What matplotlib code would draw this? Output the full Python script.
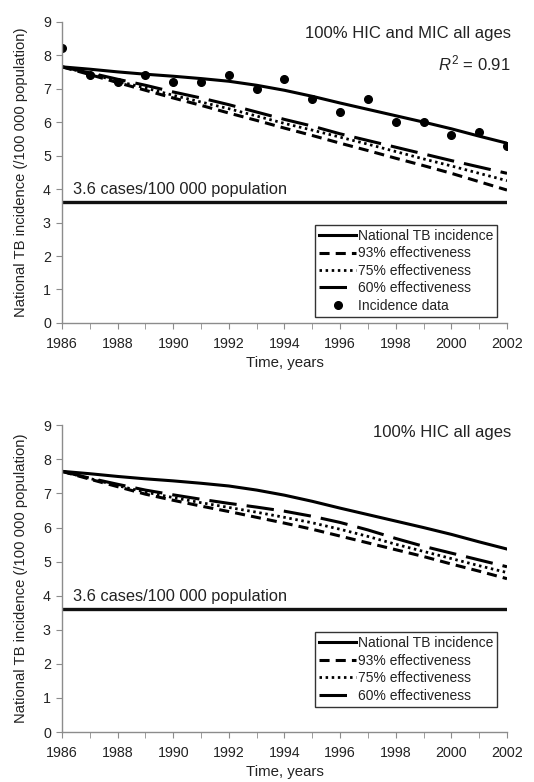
import matplotlib
matplotlib.use('Agg')
import matplotlib.pyplot as plt
import numpy as np

plt.rcParams['font.family'] = ['Liberation Sans', 'DejaVu Sans']
plt.rcParams['mathtext.fontset'] = 'custom'
plt.rcParams['mathtext.rm'] = 'Liberation Sans'
plt.rcParams['mathtext.it'] = 'Liberation Sans:italic'

years = list(range(1986, 2003))

# national TB incidence model (same in both panels)
national = [7.65, 7.58, 7.50, 7.43, 7.37, 7.30, 7.22, 7.10, 6.95, 6.77,
            6.57, 6.38, 6.19, 6.00, 5.80, 5.58, 5.37]
# observed incidence data
incidence = [8.2, 7.4, 7.2, 7.4, 7.2, 7.2, 7.4, 7.0, 7.3, 6.7,
             6.3, 6.7, 6.0, 6.0, 5.6, 5.7, 5.3]

# top panel: 100% HIC and MIC all ages
top_93 = [7.65, 7.42, 7.18, 6.95, 6.72, 6.50, 6.27, 6.05, 5.82, 5.60,
          5.37, 5.15, 4.92, 4.70, 4.47, 4.22, 3.97]
top_75 = [7.65, 7.45, 7.22, 7.02, 6.80, 6.60, 6.40, 6.18, 5.96, 5.76,
          5.55, 5.34, 5.12, 4.90, 4.69, 4.47, 4.25]
top_60 = [7.65, 7.47, 7.28, 7.10, 6.90, 6.72, 6.52, 6.30, 6.08, 5.88,
          5.65, 5.45, 5.25, 5.05, 4.85, 4.66, 4.47]

# bottom panel: 100% HIC all ages
bot_93 = [7.65, 7.42, 7.20, 6.98, 6.80, 6.63, 6.47, 6.30, 6.13, 5.95,
          5.75, 5.55, 5.35, 5.15, 4.93, 4.72, 4.50]
bot_75 = [7.65, 7.44, 7.23, 7.04, 6.88, 6.73, 6.59, 6.45, 6.30, 6.14,
          5.95, 5.74, 5.51, 5.30, 5.09, 4.88, 4.68]
bot_60 = [7.65, 7.45, 7.27, 7.10, 6.96, 6.83, 6.71, 6.60, 6.48, 6.33,
          6.15, 5.93, 5.68, 5.45, 5.25, 5.05, 4.85]

target = 3.6
txt = '#222222'
spine = '#8c8c8c'

fig = plt.figure(figsize=(5.34, 7.82), dpi=100)
ax_top = fig.add_axes([0.1161, 0.5870, 0.8333, 0.3853])
ax_bot = fig.add_axes([0.1161, 0.0639, 0.8333, 0.3922])


def draw_panel(ax, s93, s75, s60, title, with_data):
    ax.plot(years, national, color='k', lw=2.2, label='National TB incidence')
    ax.plot(years, s93, color='k', lw=2.2, dashes=(3.3, 2.0), label='93% effectiveness')
    ax.plot(years, s75, color='k', lw=2.0, dashes=(0.9, 1.3), label='75% effectiveness')
    ax.plot(years, s60, color='k', lw=2.2, dashes=(9.0, 3.3), label='60% effectiveness')
    if with_data:
        ax.plot(years, incidence, 'o', color='k', ms=5.5, label='Incidence data')
    ax.axhline(target, color='#111111', lw=2.4)
    ax.text(1986.4, 3.85, '3.6 cases/100 000 population', fontsize=11.8,
            color=txt, va='baseline')

    ax.set_xlim(1986, 2002)
    ax.set_ylim(0, 9)
    ax.set_xticks(range(1986, 2003, 2))
    ax.set_xticks(range(1986, 2003), minor=True)
    ax.set_yticks(range(0, 10))
    for s in ['top', 'right']:
        ax.spines[s].set_visible(False)
    for s in ['left', 'bottom']:
        ax.spines[s].set_color(spine)
        ax.spines[s].set_linewidth(1.0)
    ax.tick_params(which='both', direction='out', length=4, color=spine,
                   labelsize=10.3, labelcolor=txt)
    ax.tick_params(axis='x', which='both', pad=6)
    ax.tick_params(axis='y', which='both', pad=4)
    ax.set_xlabel('Time, years', fontsize=10.8, color=txt, labelpad=4)
    ax.set_ylabel('National TB incidence (/100 000 population)', fontsize=10.6,
                  color=txt, labelpad=11)

    ax.text(1.009, title[1], title[0], transform=ax.transAxes, ha='right',
            va='center', fontsize=12, color=txt)

    leg = ax.legend(loc='upper right', bbox_to_anchor=(0.978, 0.326),
                    fontsize=10, frameon=True, fancybox=False,
                    handlelength=2.6, handletextpad=0.15, labelspacing=0.25,
                    borderpad=0.3, borderaxespad=0)
    leg.get_frame().set_edgecolor('k')
    leg.get_frame().set_linewidth(1.0)
    for t in leg.get_texts():
        t.set_color(txt)
    return ax


draw_panel(ax_top, top_93, top_75, top_60, ('100% HIC and MIC all ages', 0.962), True)
ax_top.text(1.009, 0.862, r'$\it{R}^2$ = 0.91', transform=ax_top.transAxes,
            ha='right', va='center', fontsize=12, color=txt)
draw_panel(ax_bot, bot_93, bot_75, bot_60, ('100% HIC all ages', 0.975), False)

plt.savefig('out.png', dpi=100)
